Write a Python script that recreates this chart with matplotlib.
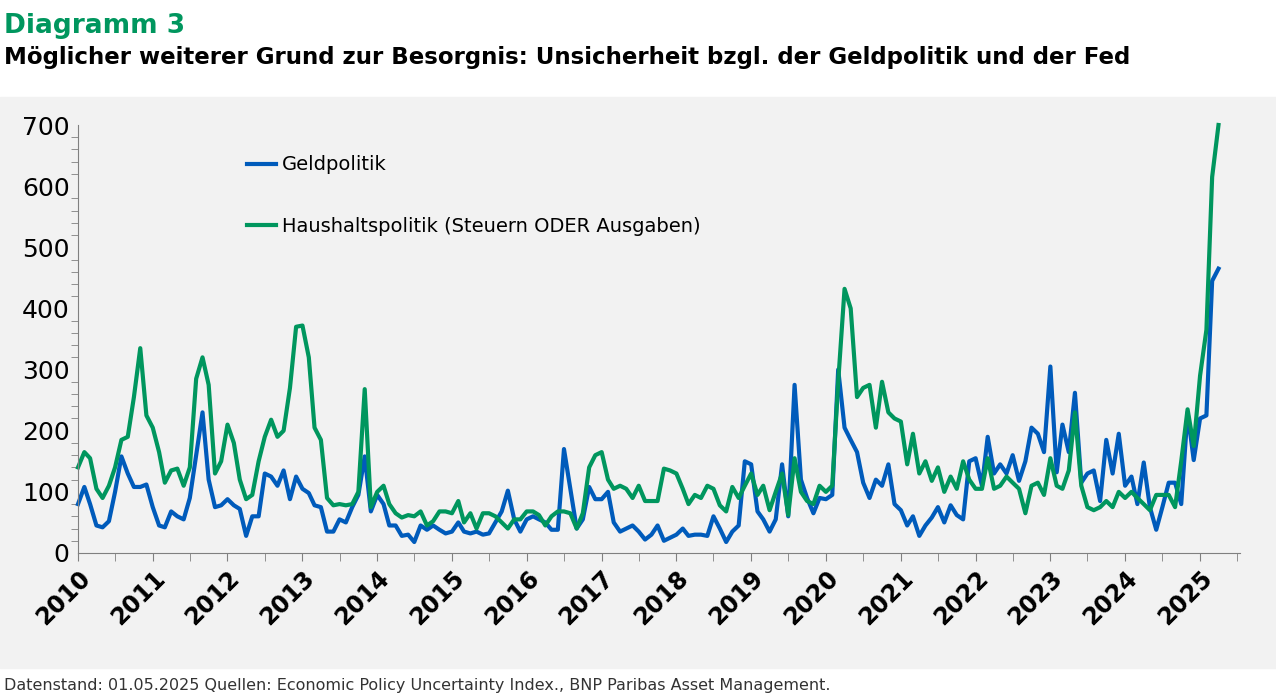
import numpy as np
import pandas as pd
import matplotlib
matplotlib.use("Agg")
import matplotlib.pyplot as plt
import matplotlib.dates as mdates
from matplotlib.patches import Rectangle

# monthly values, Jan 2010 - Apr 2025
geldpolitik = [
    80, 108, 80, 45, 42, 52, 100, 158, 130, 108, 108, 112,
    75, 45, 42, 68, 60, 55, 90, 160, 230, 120, 75, 78,
    88, 78, 72, 28, 60, 60, 130, 125, 110, 135, 88, 125,
    105, 98, 78, 75, 35, 35, 55, 50, 75, 95, 158, 68,
    95, 80, 45, 45, 28, 30, 18, 45, 38, 45, 38, 32,
    35, 50, 35, 32, 35, 30, 32, 50, 68, 102, 55, 35,
    55, 60, 55, 50, 38, 38, 170, 105, 40, 55, 108, 88,
    88, 100, 50, 35, 40, 45, 35, 22, 30, 45, 20, 25,
    30, 40, 28, 30, 30, 28, 60, 40, 18, 35, 45, 150,
    145, 68, 55, 35, 55, 145, 60, 275, 120, 90, 65, 90,
    88, 95, 300, 205, 185, 165, 115, 90, 120, 110, 145, 80,
    70, 45, 60, 28, 45, 58, 75, 50, 78, 62, 55, 150,
    155, 110, 190, 130, 145, 130, 160, 118, 150, 205, 195, 165,
    305, 132, 210, 165, 262, 115, 130, 135, 85, 185, 130, 195,
    110, 125, 80, 148, 75, 38, 75, 115, 115, 80, 230, 152,
    220, 225, 445, 465,
]
haushaltspolitik = [
    140, 165, 155, 105, 90, 110, 140, 185, 190, 255, 335, 225,
    205, 165, 115, 135, 138, 110, 140, 285, 320, 275, 130, 150,
    210, 180, 120, 88, 95, 150, 190, 218, 190, 200, 270, 370,
    372, 320, 205, 185, 90, 78, 80, 78, 80, 100, 268, 75,
    100, 110, 80, 65, 58, 62, 60, 68, 45, 52, 68, 68,
    65, 85, 50, 65, 40, 65, 65, 60, 50, 40, 55, 55,
    68, 68, 62, 45, 60, 68, 68, 65, 40, 65, 140, 160,
    165, 120, 105, 110, 105, 90, 110, 85, 85, 85, 138, 135,
    130, 105, 80, 95, 90, 110, 105, 78, 68, 108, 90, 110,
    130, 95, 110, 70, 100, 130, 62, 155, 100, 85, 80, 110,
    100, 110, 280, 432, 400, 255, 270, 275, 205, 280, 230, 220,
    215, 145, 195, 130, 150, 118, 140, 100, 125, 105, 150, 120,
    105, 105, 155, 105, 110, 125, 115, 105, 65, 110, 115, 95,
    155, 110, 105, 135, 230, 110, 75, 70, 75, 85, 75, 100,
    90, 100, 90, 80, 70, 95, 95, 95, 75, 150, 235, 175,
    290, 365, 615, 700,
]
dates = pd.date_range("2010-01-01", periods=len(geldpolitik), freq="MS")

BLUE = "#005bbb"
GREEN = "#00965e"

fig = plt.figure(figsize=(12.76, 6.97), dpi=100)
bg = Rectangle((0, 1 - 668 / 697), 1, (668 - 97) / 697,
               transform=fig.transFigure, color="#f2f2f2", zorder=-10)
fig.add_artist(bg)

fig.text(0.003, 0.962, "Diagramm 3", color=GREEN, fontsize=19, fontweight="bold", va="center")
fig.text(0.003, 0.918, "Möglicher weiterer Grund zur Besorgnis: Unsicherheit bzgl. der Geldpolitik und der Fed",
         fontsize=16.5, fontweight="bold", va="center")
fig.text(0.003, 0.017, "Datenstand: 01.05.2025 Quellen: Economic Policy Uncertainty Index., BNP Paribas Asset Management.",
         fontsize=11.5, color="#333333", va="center")

ax = fig.add_axes([78 / 1276, 1 - 553 / 697, (1240 - 78) / 1276, (553 - 125) / 697])
ax.set_zorder(5)
ax.set_facecolor("none")
ax.plot(dates, geldpolitik, color=BLUE, lw=3, label="Geldpolitik", clip_on=False)
ax.plot(dates, haushaltspolitik, color=GREEN, lw=3,
        label="Haushaltspolitik (Steuern ODER Ausgaben)", clip_on=False)

ax.set_ylim(0, 700)
ax.set_xlim(pd.Timestamp("2010-01-01"), pd.Timestamp("2025-07-15"))
ax.set_yticks(range(0, 701, 100))
ax.set_yticks(range(0, 701, 20), minor=True)
ax.xaxis.set_major_locator(mdates.YearLocator())
ax.xaxis.set_minor_locator(mdates.MonthLocator(bymonth=7))
ax.xaxis.set_major_formatter(mdates.DateFormatter("%Y"))
for s in ["top", "right"]:
    ax.spines[s].set_visible(False)
for s in ["left", "bottom"]:
    ax.spines[s].set_color("#808080")
ax.tick_params(axis="y", which="both", length=5, color="#808080", labelsize=18, pad=6)
ax.tick_params(axis="y", which="major", length=0)
ax.tick_params(axis="x", which="both", length=6, color="#808080", labelsize=17)
plt.setp(ax.get_xticklabels(), rotation=45, ha="right", rotation_mode="anchor", fontweight="bold")

ax.legend(loc="upper left", bbox_to_anchor=(0.13, 0.97), frameon=False, fontsize=14,
          handlelength=1.5, labelspacing=2.2, handletextpad=0.3)

fig.savefig("out.png", dpi=100)
